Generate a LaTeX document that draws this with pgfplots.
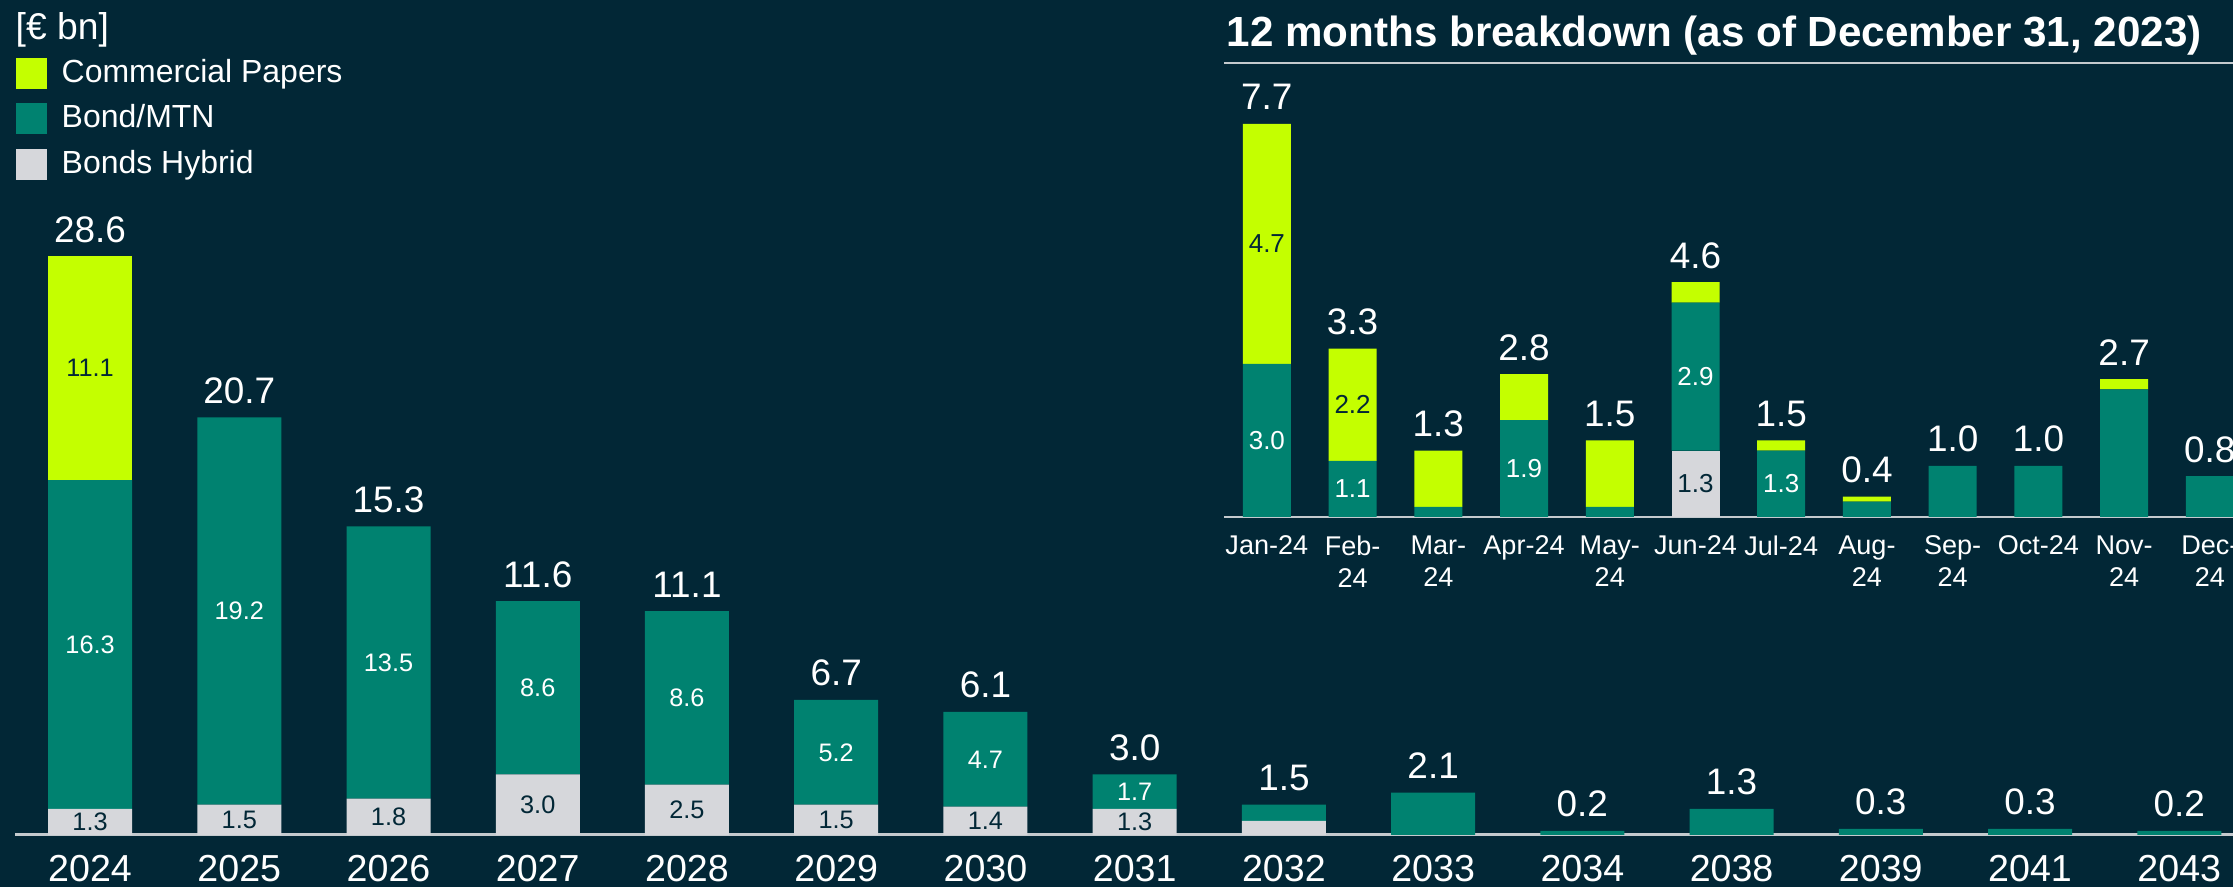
\documentclass[border=0pt]{standalone}
\usepackage{pgfplots}
\pgfplotsset{compat=1.18}
\usepackage{pgfplotstable}
\usepackage{fontspec}
\setmainfont{Liberation Sans}

\definecolor{bgnavy}{RGB}{2,39,54}
\definecolor{cplime}{RGB}{196,255,0}
\definecolor{bondteal}{RGB}{0,130,112}
\definecolor{hybgrey}{RGB}{214,215,219}
\definecolor{linegrey}{RGB}{196,202,206}

% maturities per year, EUR bn
\pgfplotstableread{
x hyb bond cp
0 1.3 16.3 11.1
1 1.5 19.2 0
2 1.8 13.5 0
3 3.0 8.6 0
4 2.5 8.6 0
5 1.5 5.2 0
6 1.4 4.7 0
7 1.3 1.7 0
8 0.7 0.8 0
9 0 2.1 0
10 0 0.2 0
11 0 1.3 0
12 0 0.3 0
13 0 0.3 0
14 0 0.2 0
}\annual

% next 12 months
\pgfplotstableread{
x hyb bond cp
0 0 3.0 4.7
1 0 1.1 2.2
2 0 0.2 1.1
3 0 1.9 0.9
4 0 0.2 1.3
5 1.3 2.9 0.4
6 0 1.3 0.2
7 0 0.3 0.1
8 0 1.0 0
9 0 1.0 0
10 0 2.5 0.2
11 0 0.8 0
}\monthly

\pgfplotsset{
  matbar/.style={
    ybar stacked, scale only axis, clip=false,
    axis x line=bottom, axis y line=none,
    x axis line style={-, draw=linegrey, line width=0.3mm},
    major tick length=0pt, ymin=0, enlargelimits=false,
  },
}
\tikzset{
  tot/.style={anchor=base, text=white, inner sep=0pt, yshift=1.4mm, font=\fontsize{10.5}{12}\selectfont},
  segw/.style={anchor=center, text=white, inner sep=0pt, font=\fontsize{7.2}{8}\selectfont},
  segd/.style={anchor=center, text=bgnavy, inner sep=0pt, font=\fontsize{7.2}{8}\selectfont},
  isegw/.style={segw, font=\fontsize{7.4}{9}\selectfont},
  isegd/.style={segd, font=\fontsize{7.4}{9}\selectfont},
}

\begin{document}
\begin{tikzpicture}
\useasboundingbox (0,0) rectangle (223.3mm,88.7mm);
\fill[bgnavy] (0,0) rectangle (223.3mm,88.7mm);
\clip (0,0) rectangle (223.3mm,88.7mm);

\begin{axis}[matbar,
  at={(1.5mm,5.2mm)}, anchor=south west,
  width=221.8mm, height=83.5mm,
  xmin=-0.503, xmax=14.36, ymax=41.4,
  bar width=8.4mm,
  xtick={0,...,14},
  xticklabels={2024,2025,2026,2027,2028,2029,2030,2031,2032,2033,2034,2038,2039,2041,2043},
  xticklabel style={font=\fontsize{10.7}{12}\selectfont, text=white, inner sep=0pt, yshift=-2mm},
  reverse legend,
  legend style={at={(0,0.9317)}, anchor=north west, draw=none, fill=none,
    text=white, inner sep=0pt, row sep=1.45mm,
    nodes={inner sep=0pt}, font=\fontsize{9.1}{10}\selectfont},
  legend cell align=left,
  legend image code/.code={\fill[#1] (0,-1.55mm) rectangle (3.1mm,1.55mm); \path (4.6mm,0);},
]
\addplot[fill=hybgrey, draw=none] table[x=x, y=hyb] {\annual};
\addlegendentry{Bonds Hybrid}
\addplot[fill=bondteal, draw=none] table[x=x, y=bond] {\annual};
\addlegendentry{Bond/MTN}
\addplot[fill=cplime, draw=none] table[x=x, y=cp] {\annual};
\addlegendentry{Commercial Papers}

\node[tot] at (axis cs:0,28.7) {28.6};
\node[tot] at (axis cs:1,20.7) {20.7};
\node[tot] at (axis cs:2,15.3) {15.3};
\node[tot] at (axis cs:3,11.6) {11.6};
\node[tot] at (axis cs:4,11.1) {11.1};
\node[tot] at (axis cs:5,6.7) {6.7};
\node[tot] at (axis cs:6,6.1) {6.1};
\node[tot] at (axis cs:7,3.0) {3.0};
\node[tot] at (axis cs:8,1.5) {1.5};
\node[tot] at (axis cs:9,2.1) {2.1};
\node[tot] at (axis cs:10,0.2) {0.2};
\node[tot] at (axis cs:11,1.3) {1.3};
\node[tot] at (axis cs:12,0.3) {0.3};
\node[tot] at (axis cs:13,0.3) {0.3};
\node[tot] at (axis cs:14,0.2) {0.2};

% segment centres, labelled after the axis so they sit above the bars
\coordinate (a0h) at (axis cs:0,0.65);
\coordinate (a0b) at (axis cs:0,9.45);
\coordinate (a0c) at (axis cs:0,23.15);
\coordinate (a1h) at (axis cs:1,0.75);
\coordinate (a1b) at (axis cs:1,11.1);
\coordinate (a2h) at (axis cs:2,0.9);
\coordinate (a2b) at (axis cs:2,8.55);
\coordinate (a3h) at (axis cs:3,1.5);
\coordinate (a3b) at (axis cs:3,7.3);
\coordinate (a4h) at (axis cs:4,1.25);
\coordinate (a4b) at (axis cs:4,6.8);
\coordinate (a5h) at (axis cs:5,0.75);
\coordinate (a5b) at (axis cs:5,4.1);
\coordinate (a6h) at (axis cs:6,0.7);
\coordinate (a6b) at (axis cs:6,3.75);
\coordinate (a7h) at (axis cs:7,0.65);
\coordinate (a7b) at (axis cs:7,2.15);
\end{axis}

\node[segd] at (a0h) {1.3};
\node[segw] at (a0b) {16.3};
\node[segd] at (a0c) {11.1};
\node[segd] at (a1h) {1.5};
\node[segw] at (a1b) {19.2};
\node[segd] at (a2h) {1.8};
\node[segw] at (a2b) {13.5};
\node[segd] at (a3h) {3.0};
\node[segw] at (a3b) {8.6};
\node[segd] at (a4h) {2.5};
\node[segw] at (a4b) {8.6};
\node[segd] at (a5h) {1.5};
\node[segw] at (a5b) {5.2};
\node[segd] at (a6h) {1.4};
\node[segw] at (a6b) {4.7};
\node[segd] at (a7h) {1.3};
\node[segw] at (a7b) {1.7};

\node[anchor=base west, text=white, inner sep=0pt, font=\fontsize{10.6}{12}\selectfont] at (1.5mm,84.7mm) {[€ bn]};

% inset: 12 months breakdown
\node[anchor=base west, text=white, inner sep=0pt, font=\bfseries\fontsize{12}{14}\selectfont] at (122.6mm,84.0mm) {12 months breakdown (as of December 31, 2023)};
\draw[linegrey, line width=0.25mm] (122.4mm,82.4mm) -- (223.3mm,82.4mm);

\begin{axis}[matbar,
  at={(122.4mm,37.0mm)}, anchor=south west,
  width=100.9mm, height=45.4mm,
  xmin=-0.5, xmax=11.27, ymax=8.895,
  bar width=4.8mm,
  x axis line style={line width=0.25mm},
  xtick={0,...,11},
  xticklabels={Jan-24,Feb-\\24,Mar-\\24,Apr-24,May-\\24,Jun-24,Jul-24,Aug-\\24,Sep-\\24,Oct-24,Nov-\\24,Dec-\\24},
  xticklabel style={font=\fontsize{7.7}{9.1}\selectfont, text=white, inner sep=0pt, align=center, yshift=-1.8mm},
]
\addplot[fill=hybgrey, draw=none] table[x=x, y=hyb] {\monthly};
\addplot[fill=bondteal, draw=none] table[x=x, y=bond] {\monthly};
\addplot[fill=cplime, draw=none] table[x=x, y=cp] {\monthly};

\node[tot] at (axis cs:0,7.7) {7.7};
\node[tot] at (axis cs:1,3.3) {3.3};
\node[tot] at (axis cs:2,1.3) {1.3};
\node[tot] at (axis cs:3,2.8) {2.8};
\node[tot] at (axis cs:4,1.5) {1.5};
\node[tot] at (axis cs:5,4.6) {4.6};
\node[tot] at (axis cs:6,1.5) {1.5};
\node[tot] at (axis cs:7,0.4) {0.4};
\node[tot] at (axis cs:8,1.0) {1.0};
\node[tot] at (axis cs:9,1.0) {1.0};
\node[tot] at (axis cs:10,2.7) {2.7};
\node[tot] at (axis cs:11,0.8) {0.8};

\coordinate (m0b) at (axis cs:0,1.5);
\coordinate (m0c) at (axis cs:0,5.35);
\coordinate (m1b) at (axis cs:1,0.55);
\coordinate (m1c) at (axis cs:1,2.2);
\coordinate (m3b) at (axis cs:3,0.95);
\coordinate (m5h) at (axis cs:5,0.65);
\coordinate (m5b) at (axis cs:5,2.75);
\coordinate (m6b) at (axis cs:6,0.65);
\end{axis}

\node[isegw] at (m0b) {3.0};
\node[isegd] at (m0c) {4.7};
\node[isegw] at (m1b) {1.1};
\node[isegd] at (m1c) {2.2};
\node[isegw] at (m3b) {1.9};
\node[isegd] at (m5h) {1.3};
\node[isegw] at (m5b) {2.9};
\node[isegw] at (m6b) {1.3};
\end{tikzpicture}
\end{document}
